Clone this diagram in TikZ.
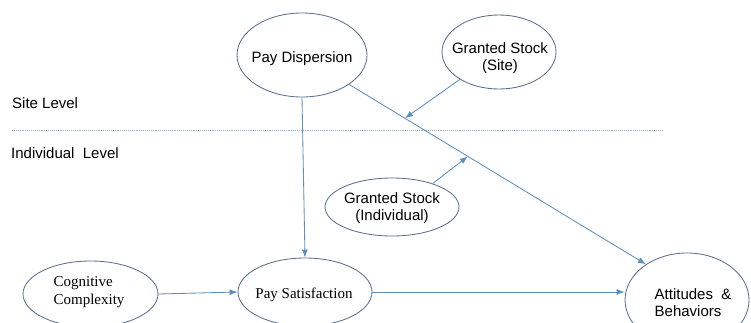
\documentclass[tikz,border=0pt]{standalone}
\usepackage{fontspec}
\setmainfont{Liberation Sans}
\newfontfamily\serifft{Liberation Serif}
\usetikzlibrary{shapes.geometric,arrows.meta}
\definecolor{ellcol}{RGB}{92,112,140}
\definecolor{arrcol}{RGB}{92,142,194}
\definecolor{dotcol}{RGB}{150,178,208}
\tikzset{
  ell/.style={draw=ellcol, line width=0.85pt, ellipse, inner sep=0pt},
  sanstxt/.style={font=\fontsize{15}{17}\selectfont, inner sep=0pt, align=center},
  seriftxt/.style={font=\serifft\fontsize{15}{18}\selectfont, inner sep=0pt},
  levtxt/.style={font=\fontsize{15}{17}\selectfont, inner sep=0pt, anchor=west},
  arr/.style={draw=arrcol, line width=0.85pt, -{Latex[length=8pt,width=6pt]}},
  sepline/.style={draw=dotcol, line width=0.9pt, densely dotted}
}
\begin{document}
\begin{tikzpicture}[x=1pt,y=-1pt]
\useasboundingbox (0,0) rectangle (751,322);
\clip (0,0) rectangle (751,322);
% ellipses
\node[ell, minimum width=130pt, minimum height=84pt] (PD) at (302,55) {};
\node[sanstxt] (PDt) at (302,59) {Pay Dispersion};
\node[ell, minimum width=114pt, minimum height=74pt] (GSS) at (499,52) {};
\node[sanstxt] (GSSt) at (500,58) {Granted Stock\\(Site)};
\node[ell, minimum width=134pt, minimum height=58pt] (GSI) at (392,207) {};
\node[sanstxt] (GSIt) at (392,208) {Granted Stock\\(Individual)};
\node[ell, minimum width=135pt, minimum height=66pt] (CC) at (90.5,294) {};
\node[seriftxt, align=left] (CCt) at (89,292) {Cognitive\\Complexity};
\node[ell, minimum width=134pt, minimum height=68pt] (PS) at (305,292) {};
\node[seriftxt] (PSt) at (304,295) {Pay Satisfaction};
\node[ell, minimum width=124pt, minimum height=94pt] (AB) at (687,300) {};
\node[sanstxt, align=left] (ABt) at (693,303) {Attitudes \ \&\\Behaviors};
% level labels and separator
\node[levtxt] (SL) at (12,103) {Site Level};
\node[levtxt] (IL) at (11,153) {Individual\ \ Level};
\coordinate (L1) at (12,130);
\coordinate (L2) at (663,130);
\draw[sepline] (L1) -- (L2);
% connectors
\path (PD.-32) -- (AB.139) coordinate[pos=0.188] (hitA) coordinate[pos=0.40] (hitB);
\draw[arr] (PD.-32) -- (AB.139);
\draw[arr] (PD.south) -- (PS.north);
\draw[arr] (GSS.215) -- (hitA);
\draw[arr] (GSI.30) -- (hitB);
\draw[arr] (CC.east) -- (PS.west);
\draw[arr] (PS.east) -- (PS.east -| AB.west);
\end{tikzpicture}
\end{document}
